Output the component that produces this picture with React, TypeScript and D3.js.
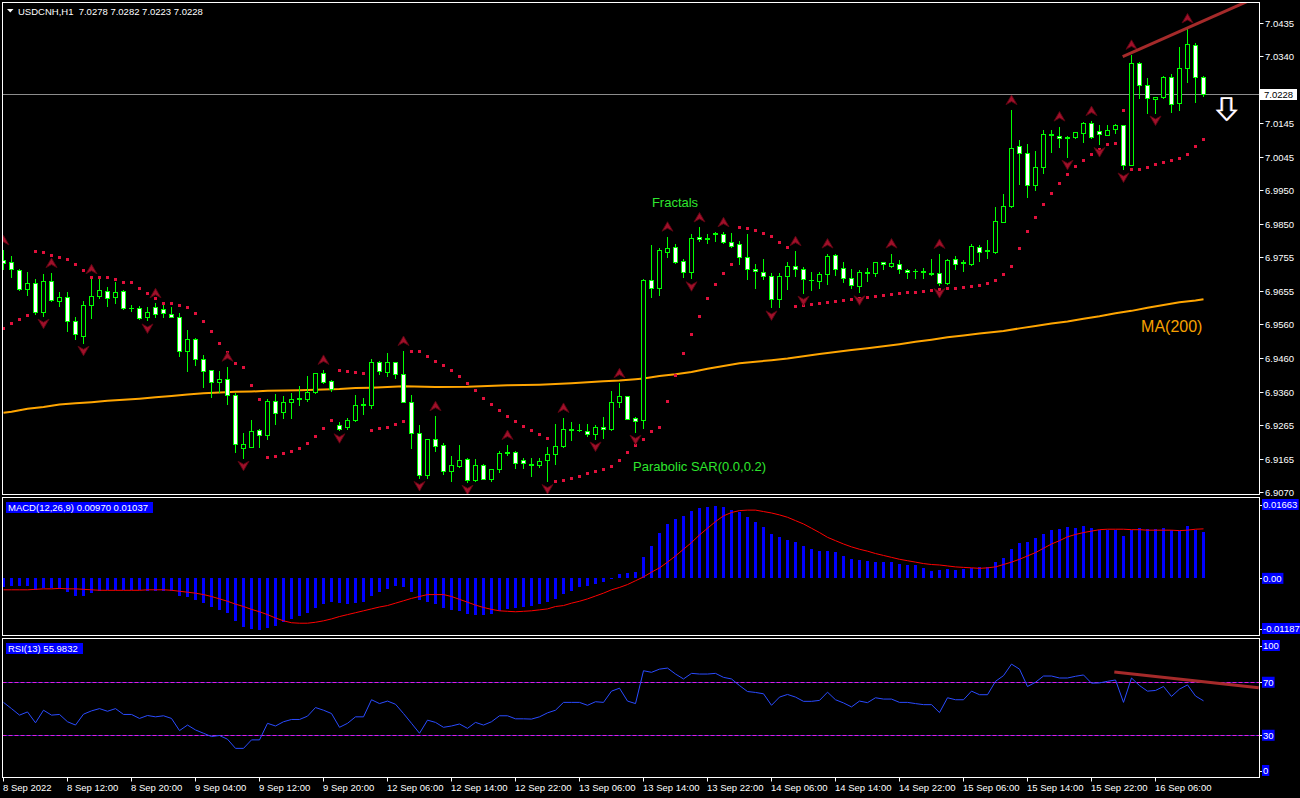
import React from 'react';
import * as d3 from 'd3';

// ---------- data ----------
const xLabels = ['8 Sep 2022','8 Sep 12:00','8 Sep 20:00','9 Sep 04:00','9 Sep 12:00','9 Sep 20:00','12 Sep 06:00','12 Sep 14:00','12 Sep 22:00','13 Sep 06:00','13 Sep 14:00','13 Sep 22:00','14 Sep 06:00','14 Sep 14:00','14 Sep 22:00','15 Sep 06:00','15 Sep 14:00','15 Sep 22:00','16 Sep 06:00'];
const labelStep = 8;
const priceTicks = [7.0435,7.0340,7.0240,7.0145,7.0045,6.9950,6.9850,6.9755,6.9655,6.9560,6.9460,6.9360,6.9265,6.9165,6.9070];
const lastPrice = 7.0228;

const opens = [6.9746,6.9739,6.9715,6.9660,6.9677,6.9593,6.9683,6.9627,6.9637,6.9568,6.9525,6.9613,6.9640,6.9654,6.9636,6.9654,6.9606,6.9605,6.9578,6.9608,6.9602,6.9587,6.9578,6.9479,6.9515,6.9456,6.9424,6.9389,6.9398,6.9351,6.9198,6.9199,6.9249,6.9234,6.9333,6.9301,6.9330,6.9340,6.9341,6.9360,6.9415,
6.9392,6.9264,6.9259,6.9280,6.9324,6.9324,6.9447,6.9418,6.9447,6.9412,6.9330,6.9240,6.9120,6.9225,6.9206,6.9131,6.9145,6.9164,6.9104,6.9149,6.9108,6.9135,6.9183,6.9186,6.9161,6.9149,6.9149,6.9162,6.9181,6.9203,6.9254,6.9250,6.9248,6.9237,6.9260,6.9254,6.9330,6.9348,6.9286,6.9278,
6.9687,6.9664,6.9769,6.9782,6.9742,6.9711,6.9811,6.9806,6.9822,6.9821,6.9798,6.9791,6.9753,6.9718,6.9710,6.9700,6.9633,6.9698,6.9729,6.9718,6.9688,6.9685,6.9703,6.9759,6.9721,6.9694,6.9670,6.9708,6.9706,6.9738,6.9728,6.9735,6.9715,6.9714,6.9712,
6.9707,6.9706,6.9677,6.9747,6.9738,6.9735,6.9784,6.9773,6.9769,6.9857,6.9903,7.0077,7.0056,6.9964,7.0015,7.0112,7.0108,7.0104,7.0103,7.0114,7.0145,7.0120,7.0110,7.0126,7.0138,7.0023,7.0318,7.0254,7.0213,7.0221,7.0278,7.0202,7.0304,7.0372,7.0278];
const highs = [6.9773,6.9757,6.9718,6.9711,6.9690,6.9704,6.9707,6.9652,6.9652,6.9578,6.9626,6.9689,6.9691,6.9666,6.9681,6.9657,6.9613,6.9611,6.9609,6.9619,6.9617,6.9608,6.9590,6.9541,6.9518,6.9468,6.9424,6.9421,6.9434,6.9357,6.9240,6.9279,6.9252,6.9340,6.9355,6.9350,6.9357,6.9378,6.9407,6.9417,6.9425,
6.9395,6.9274,6.9285,6.9351,6.9342,6.9458,6.9450,6.9473,6.9449,6.9480,6.9353,6.9264,6.9225,6.9290,6.9211,6.9174,6.9206,6.9167,6.9164,6.9151,6.9137,6.9188,6.9206,6.9188,6.9167,6.9167,6.9167,6.9199,6.9266,6.9285,6.9272,6.9266,6.9266,6.9264,6.9287,6.9363,6.9386,6.9350,6.9288,6.9690,
6.9789,6.9779,6.9813,6.9791,6.9747,6.9820,6.9840,6.9821,6.9826,6.9826,6.9823,6.9801,6.9821,6.9735,6.9747,6.9706,6.9706,6.9738,6.9771,6.9724,6.9709,6.9711,6.9764,6.9764,6.9740,6.9719,6.9716,6.9721,6.9740,6.9740,6.9764,6.9745,6.9718,6.9718,6.9721,
6.9747,6.9763,6.9749,6.9757,6.9745,6.9792,6.9789,6.9803,6.9899,6.9937,7.0182,7.0095,7.0083,7.0063,7.0124,7.0124,7.0134,7.0107,7.0119,7.0148,7.0150,7.0138,7.0138,7.0141,7.0140,7.0343,7.0322,7.0275,7.0221,7.0281,7.0287,7.0367,7.0420,7.0377,7.0282];
const lows = [6.9718,6.9697,6.9658,6.9643,6.9587,6.9583,6.9626,6.9611,6.9539,6.9514,6.9504,6.9575,6.9634,6.9612,6.9621,6.9603,6.9597,6.9574,6.9569,6.9580,6.9580,6.9578,6.9464,6.9423,6.9439,6.9376,6.9347,6.9360,6.9327,6.9187,6.9169,6.9199,6.9201,6.9223,6.9268,6.9286,6.9286,6.9323,6.9335,6.9357,6.9388,
6.9363,6.9249,6.9254,6.9277,6.9295,6.9314,6.9412,6.9408,6.9402,6.9330,6.9198,6.9110,6.9110,6.9188,6.9123,6.9101,6.9142,6.9099,6.9101,6.9107,6.9101,6.9128,6.9176,6.9138,6.9139,6.9116,6.9142,6.9101,6.9151,6.9201,6.9220,6.9247,6.9233,6.9225,6.9227,6.9249,6.9318,6.9281,6.9245,6.9256,
6.9638,6.9643,6.9755,6.9737,6.9696,6.9692,6.9801,6.9794,6.9801,6.9795,6.9782,6.9735,6.9689,6.9665,6.9690,6.9607,6.9609,6.9661,6.9699,6.9650,6.9659,6.9664,6.9675,6.9701,6.9682,6.9665,6.9651,6.9685,6.9699,6.9719,6.9725,6.9708,6.9694,6.9694,6.9692,
6.9701,6.9672,6.9675,6.9718,6.9714,6.9732,6.9743,6.9750,6.9765,6.9857,6.9901,6.9967,6.9930,6.9949,6.9998,7.0061,7.0075,7.0046,7.0100,7.0090,7.0100,7.0083,7.0109,7.0116,7.0009,7.0023,7.0218,7.0175,7.0175,7.0216,7.0177,7.0182,7.0265,7.0207,7.0223];
const closes = [6.9736,6.9718,6.9660,6.9677,6.9593,6.9683,6.9628,6.9637,6.9568,6.9529,6.9613,6.9640,6.9657,6.9634,6.9651,6.9605,6.9606,6.9577,6.9594,6.9587,6.9590,6.9578,6.9479,6.9515,6.9456,6.9421,6.9389,6.9398,6.9352,6.9208,6.9208,6.9247,6.9234,6.9333,6.9298,6.9330,6.9339,6.9342,6.9360,6.9415,6.9391,
6.9369,6.9254,6.9280,6.9324,6.9326,6.9447,6.9421,6.9447,6.9412,6.9330,6.9240,6.9120,6.9225,6.9204,6.9131,6.9149,6.9161,6.9104,6.9149,6.9108,6.9135,6.9184,6.9185,6.9155,6.9155,6.9150,6.9159,6.9181,6.9203,6.9254,6.9249,6.9250,6.9239,6.9260,6.9254,6.9330,6.9348,6.9283,6.9276,6.9687,
6.9664,6.9774,6.9779,6.9740,6.9711,6.9810,6.9805,6.9808,6.9824,6.9798,6.9787,6.9753,6.9718,6.9712,6.9698,6.9633,6.9698,6.9729,6.9718,6.9689,6.9687,6.9703,6.9757,6.9718,6.9694,6.9672,6.9709,6.9710,6.9738,6.9733,6.9736,6.9718,6.9709,6.9713,6.9711,
6.9705,6.9677,6.9745,6.9735,6.9736,6.9786,6.9769,6.9771,6.9859,6.9904,7.0073,7.0056,6.9963,7.0015,7.0111,7.0110,7.0100,7.0102,7.0117,7.0143,7.0103,7.0111,7.0124,7.0138,7.0021,7.0318,7.0254,7.0216,7.0221,7.0278,7.0200,7.0304,7.0375,7.0279,7.0228];

const sar = [6.9546,6.9561,6.9573,6.9584,6.9772,6.9768,6.9759,6.9754,6.9747,6.9733,6.9715,6.9695,6.9695,6.9695,6.9689,6.9680,6.9680,6.9663,6.9648,6.9634,6.9619,6.9619,6.9613,6.9608,6.9590,6.9567,6.9538,6.9503,6.9476,6.9444,6.9433,6.9380,6.9339,6.9170,6.9173,6.9182,6.9188,6.9196,6.9211,6.9231,6.9255,
6.9279,6.9424,6.9421,6.9418,6.9416,6.9249,6.9255,6.9258,6.9267,6.9276,6.9480,6.9480,6.9465,6.9451,6.9439,6.9424,6.9407,6.9386,6.9365,6.9343,6.9325,6.9308,6.9290,6.9276,6.9261,6.9249,6.9238,6.9226,6.9101,6.9103,6.9109,6.9115,6.9124,6.9130,6.9136,6.9144,6.9162,6.9185,6.9206,6.9223,
6.9247,6.9258,6.9335,6.9410,6.9474,6.9529,6.9583,6.9635,6.9675,6.9708,6.9733,6.9842,6.9838,6.9832,6.9824,6.9815,6.9797,6.9784,6.9611,6.9614,6.9617,6.9620,6.9622,6.9625,6.9628,6.9631,6.9634,6.9637,6.9640,6.9643,6.9646,6.9649,6.9652,6.9652,6.9655,
6.9658,6.9661,6.9663,6.9663,6.9666,6.9669,6.9672,6.9678,6.9687,6.9704,6.9729,6.9780,6.9830,6.9870,6.9908,6.9940,6.9970,6.9996,7.0019,7.0037,7.0054,7.0069,7.0083,7.0086,7.0182,7.0010,7.0010,7.0016,7.0025,7.0031,7.0037,7.0042,7.0054,7.0077,7.0098];

const fractalUp = [0,6,11,19,28,40,50,54,63,70,77,83,87,90,99,103,111,117,126,132,136,141,148];
const fractalDown = [5,10,18,30,42,52,58,68,74,79,86,96,100,107,117,133,137,140,144];

const maBars = [0,1,3,5,7,9,11,13,15,17,19,21,23,25,27,29,31,33,35,37,39,42,44,46,48,50,54,58,63,67,69,71,73,75,77,79,80,82,84,86,88,90,92,94,96,98,100,102,104,106,108,110,112,114,116,118,120,122,125,127,129,131,133,135,137,139,141,143,145,147,149,150];
const maValues = [6.9300,6.9303,6.9312,6.9317,6.9324,6.9328,6.9331,6.9335,6.9338,6.9341,6.9345,6.9349,6.9353,6.9357,6.9359,6.9361,6.9362,6.9364,6.9365,6.9366,6.9367,6.9369,6.9372,6.9373,6.9375,6.9377,6.9375,6.9376,6.9380,6.9382,6.9384,6.9386,6.9389,6.9392,6.9394,6.9398,6.9400,6.9407,6.9412,6.9419,6.9428,6.9436,6.9444,6.9449,6.9453,6.9458,6.9465,6.9471,6.9477,6.9483,6.9488,6.9494,6.9500,6.9507,6.9513,6.9520,6.9525,6.9531,6.9538,6.9546,6.9553,6.9560,6.9566,6.9574,6.9581,6.9590,6.9597,6.9606,6.9614,6.9622,6.9627,6.9631];

const trendBars = [139.9, 155.5];
const trendPrices = [7.0338, 7.0499];

const macdHist = [-0.0019,-0.0015,-0.0017,-0.0017,-0.0024,-0.0020,-0.0020,-0.0023,-0.0029,-0.0036,-0.0036,-0.0031,-0.0026,-0.0024,-0.0024,-0.0024,-0.0024,-0.0024,-0.0026,-0.0026,-0.0026,-0.0027,-0.0036,-0.0040,-0.0045,-0.0052,-0.0061,-0.0066,-0.0073,-0.0089,-0.0101,-0.0106,-0.0108,-0.0103,-0.0100,-0.0092,-0.0085,-0.0078,-0.0073,-0.0062,-0.0054,
-0.0050,-0.0052,-0.0054,-0.0052,-0.0050,-0.0038,-0.0029,-0.0022,-0.0017,-0.0019,-0.0029,-0.0045,-0.0050,-0.0054,-0.0062,-0.0066,-0.0069,-0.0075,-0.0076,-0.0077,-0.0075,-0.0068,-0.0065,-0.0062,-0.0059,-0.0058,-0.0054,-0.0050,-0.0044,-0.0033,-0.0027,-0.0019,-0.0017,-0.0012,-0.0008,0.0001,0.0009,0.0012,0.0013,0.0045,
0.0068,0.0096,0.0114,0.0125,0.0131,0.0142,0.0147,0.0150,0.0151,0.0150,0.0144,0.0139,0.0129,0.0118,0.0108,0.0094,0.0086,0.0081,0.0077,0.0068,0.0062,0.0058,0.0058,0.0055,0.0047,0.0041,0.0038,0.0036,0.0035,0.0035,0.0034,0.0030,0.0029,0.0027,0.0021,
0.0016,0.0018,0.0020,0.0018,0.0019,0.0022,0.0024,0.0024,0.0034,0.0042,0.0062,0.0075,0.0076,0.0084,0.0094,0.0102,0.0103,0.0107,0.0105,0.0110,0.0105,0.0102,0.0102,0.0101,0.0088,0.0101,0.0105,0.0103,0.0103,0.0105,0.0101,0.0100,0.0109,0.0102,0.0097];
const macdSignal = [-0.0024,-0.0024,-0.0024,-0.0024,-0.0023,-0.0022,-0.0022,-0.0021,-0.0022,-0.0022,-0.0023,-0.0024,-0.0025,-0.0025,-0.0025,-0.0025,-0.0025,-0.0025,-0.0024,-0.0024,-0.0024,-0.0025,-0.0027,-0.0029,-0.0031,-0.0034,-0.0038,-0.0043,-0.0048,-0.0054,-0.0059,-0.0065,-0.0070,-0.0076,-0.0083,-0.0089,-0.0093,-0.0094,-0.0094,-0.0092,-0.0089,
-0.0085,-0.0080,-0.0076,-0.0072,-0.0068,-0.0064,-0.0060,-0.0057,-0.0052,-0.0047,-0.0042,-0.0038,-0.0034,-0.0034,-0.0034,-0.0038,-0.0044,-0.0050,-0.0056,-0.0061,-0.0065,-0.0068,-0.0069,-0.0070,-0.0069,-0.0068,-0.0066,-0.0064,-0.0059,-0.0057,-0.0052,-0.0048,-0.0043,-0.0037,-0.0031,-0.0024,-0.0019,-0.0013,-0.0005,0.0003,
0.0013,0.0022,0.0034,0.0047,0.0061,0.0075,0.0091,0.0105,0.0119,0.0131,0.0138,0.0142,0.0143,0.0143,0.0140,0.0137,0.0133,0.0128,0.0121,0.0114,0.0105,0.0096,0.0086,0.0079,0.0072,0.0066,0.0061,0.0057,0.0052,0.0048,0.0044,0.0040,0.0037,0.0034,0.0031,
0.0029,0.0028,0.0026,0.0024,0.0023,0.0022,0.0021,0.0022,0.0024,0.0029,0.0034,0.0040,0.0047,0.0054,0.0063,0.0072,0.0079,0.0087,0.0092,0.0096,0.0099,0.0102,0.0103,0.0103,0.0103,0.0102,0.0102,0.0101,0.0101,0.0101,0.0101,0.0100,0.0101,0.0103,0.01037];
const macdTicks = [0.01663, 0, -0.01187];
const macdTickLabels = ['0.01663', '0.00', '-0.01187'];

const rsi = [54.8,50.1,45.2,47.6,39.4,48.9,45.2,45.7,40.2,37.7,45.9,48.4,50.1,48.1,50.1,45.7,45.7,42.7,44.9,43.9,44.7,42.7,33.5,37.7,34.0,31.5,29.0,29.8,27.0,20.1,20.1,26.5,26.5,39.0,37.0,40.2,41.9,41.9,44.4,50.9,48.9,
46.4,36.0,39.0,43.9,43.9,56.8,53.9,55.8,53.4,46.4,39.0,31.5,41.4,39.7,36.0,37.0,38.5,35.2,39.7,37.7,40.2,44.7,44.7,42.4,42.4,42.2,43.9,46.9,48.9,54.8,54.8,54.8,52.6,55.3,54.8,63.3,65.5,55.8,53.9,78.7,
77.5,79.9,80.7,76.2,72.5,76.7,76.2,76.2,76.7,73.7,72.5,67.5,63.0,62.3,61.3,52.6,58.8,60.8,58.8,55.6,55.6,56.3,62.5,56.8,54.4,51.4,55.8,54.6,58.3,57.3,57.3,54.8,54.8,53.9,53.1,
53.1,47.1,58.3,56.8,56.8,63.3,60.6,60.6,70.7,75.0,83.7,79.9,66.8,70.0,74.7,74.7,73.2,73.2,74.5,75.5,69.3,69.5,70.7,71.7,54.8,73.2,67.5,63.3,63.8,66.8,59.3,64.8,68.0,59.6,55.98];
const rsiLevels = [70, 30];
const rsiTicks = [100, 70, 30, 0];
const rsiTrendBars = [138.85, 156.9];
const rsiTrendValues = [77.7, 65.9];

// ---------- component ----------
const FONT = '"Liberation Sans", Arial, sans-serif';
const GREEN = '#00ff00';

export default function App() {
  const W = 1300, H = 798;
  const left = 2.5, right = 1259.5;
  const main = { top: 2.5, bottom: 494.5 };
  const macdP = { top: 497.5, bottom: 635.5 };
  const rsiP = { top: 638.5, bottom: 777.5 };

  const x = d3.scaleLinear().domain([0, 150]).range([3.5, 1203.5]);
  const y = d3.scaleLinear().domain([6.9070, 7.0435]).range([491.7, 23.3]);
  const ym = d3.scaleLinear().domain([-0.01187, 0.01663]).range([635, 499]);
  const yr = d3.scaleLinear().domain([0, 100]).range([775, 642.5]);

  const rnd = (v: number) => Math.round(v);
  const clampLab = (v: number, p: { top: number; bottom: number }) => Math.max(p.top + 7, Math.min(p.bottom - 7, v));

  const maLine = d3.line<number>().x((_, i) => x(maBars[i])).y((v) => y(v))(maValues) || '';
  const sigLine = d3.line<number>().x((_, i) => x(i)).y((v) => ym(v))(macdSignal) || '';
  const rsiLine = d3.line<number>().x((_, i) => x(i)).y((v) => yr(v))(rsi) || '';

  const zeroY = rnd(ym(0));
  const lastY = rnd(y(lastPrice));

  const upPath = 'M0,-5 L5.5,4.5 L0,1.5 L-5.5,4.5 Z';
  const downPath = 'M0,5 L5.5,-4.5 L0,-1.5 L-5.5,-4.5 Z';

  // arrow annotation anchored in data space
  const arrowBar = 152.9;
  const arrowTopY = y(7.0217);
  const arrowMidY = y(7.0181);
  const arrowTipY = y(7.0153);
  const ax = x(arrowBar);
  const arrowPath = `M${ax - 5},${arrowTopY} L${ax + 4.5},${arrowTopY} L${ax + 4.5},${arrowMidY} L${ax + 9},${arrowMidY} L${ax},${arrowTipY} L${ax - 9},${arrowMidY} L${ax - 5},${arrowMidY} Z`;

  return (
    <svg width={W} height={H} style={{ position: 'fixed', left: 0, top: 0, background: '#000' }} fontFamily={FONT}>
      <defs>
        <clipPath id="clipMain"><rect x={3} y={3} width={1256} height={491} /></clipPath>
        <clipPath id="clipMacd"><rect x={3} y={498} width={1256} height={137} /></clipPath>
        <clipPath id="clipRsi"><rect x={3} y={639} width={1256} height={138} /></clipPath>
      </defs>
      <rect x={0} y={0} width={W} height={H} fill="#000" />

      {/* ================= MAIN PANEL ================= */}
      <g clipPath="url(#clipMain)">
        <path d={maLine} fill="none" stroke="#ffa500" strokeWidth={2} />
        <line x1={left} x2={right} y1={lastY + 0.5} y2={lastY + 0.5} stroke="#8c8c8c" strokeWidth={1} />
        {opens.map((o, i) => {
          const c = closes[i];
          const cx = x(i);
          const top = rnd(y(Math.max(o, c)));
          const bot = rnd(y(Math.min(o, c)));
          const bull = c >= o;
          return (
            <g key={'c' + i}>
              <line x1={cx} x2={cx} y1={rnd(y(highs[i]))} y2={rnd(y(lows[i])) + 1} stroke={GREEN} strokeWidth={1} />
              {bot - top < 1 ? (
                <line x1={cx - 2.5} x2={cx + 2.5} y1={top + 0.5} y2={top + 0.5} stroke={GREEN} strokeWidth={1} />
              ) : (
                <rect x={cx - 2} y={top + 0.5} width={4} height={bot - top} fill={bull ? '#000' : '#fff'} stroke={GREEN} strokeWidth={1} />
              )}
            </g>
          );
        })}
        {sar.map((v, i) => (
          <rect key={'s' + i} x={x(i) - 1.5} y={rnd(y(v)) - 1} width={3} height={3} fill="#e0103c" />
        ))}
        {fractalUp.map((b) => (
          <path key={'fu' + b} d={upPath} transform={`translate(${x(b)},${y(highs[b]) - 10})`} fill="#a0102a" stroke="#5c0512" strokeWidth={0.9} />
        ))}
        {fractalDown.map((b) => (
          <path key={'fd' + b} d={downPath} transform={`translate(${x(b)},${y(lows[b]) + 8})`} fill="#a0102a" stroke="#5c0512" strokeWidth={0.9} />
        ))}
        <line x1={x(trendBars[0])} y1={y(trendPrices[0])} x2={x(trendBars[1])} y2={y(trendPrices[1])} stroke="#a52a2a" strokeWidth={3} />
        <text x={x(81.05)} y={y(6.9900)} fill="#2ee62e" fontSize={13}>Fractals</text>
        <text x={x(78.7)} y={y(6.9130)} fill="#2ee62e" fontSize={13}>Parabolic SAR(0.0,0.2)</text>
        <text x={x(142.2)} y={y(6.9535)} fill="#f7a000" fontSize={16}>MA(200)</text>
        <path d={arrowPath} fill="none" stroke="#3a7bff" strokeWidth={1.2} transform="translate(-1,0)" />
        <path d={arrowPath} fill="none" stroke="#ff9a30" strokeWidth={1.2} transform="translate(1,0)" />
        <path d={arrowPath} fill="none" stroke="#ffffff" strokeWidth={1.6} />
      </g>

      {/* header */}
      <path d="M7,9 L13.5,9 L10.25,12.5 Z" fill="#fff" />
      <text x={18} y={15} fill="#fff" fontSize={9.5} style={{ whiteSpace: 'pre' }}>{'USDCNH,H1  7.0278 7.0282 7.0223 7.0228'}</text>

      <rect x={left} y={main.top} width={right - left} height={main.bottom - main.top} fill="none" stroke="#fff" strokeWidth={1} />

      {/* price axis (labels hidden under the current-price box are not drawn, as in the terminal) */}
      {priceTicks.map((t) => {
        const ty = rnd(y(t)) + 0.5;
        const hidden = Math.abs(ty - lastY) < 12;
        return (
          <g key={'pt' + t}>
            <line x1={right} x2={right + 4} y1={ty} y2={ty} stroke="#fff" />
            {!hidden && <text x={1265} y={ty + 3.5} fill="#fff" fontSize={9.5}>{t.toFixed(4)}</text>}
          </g>
        );
      })}
      <g>
        <rect x={1260} y={lastY - 5} width={37} height={11} fill="#fff" />
        <text x={1264} y={lastY + 4} fill="#000" fontSize={9.5}>{lastPrice.toFixed(4)}</text>
      </g>

      {/* ================= MACD PANEL ================= */}
      <g clipPath="url(#clipMacd)">
        {macdHist.map((v, i) => {
          const yv = rnd(ym(v));
          const y0 = Math.min(yv, zeroY);
          const h = Math.max(1, Math.abs(yv - zeroY));
          return <rect key={'m' + i} x={x(i) - 1.5} y={y0} width={3} height={h} fill="#0000ff" />;
        })}
        <path d={sigLine} fill="none" stroke="#ff0000" strokeWidth={1} />
      </g>
      <rect x={left} y={macdP.top} width={right - left} height={macdP.bottom - macdP.top} fill="none" stroke="#fff" strokeWidth={1} />
      <rect x={6} y={502} width={147} height={11} fill="#0000ff" />
      <text x={8} y={511} fill="#fff" fontSize={9.5}>MACD(12,26,9) 0.00970 0.01037</text>
      {macdTicks.map((t, i) => {
        const cy = clampLab(ym(t), macdP);
        return (
          <g key={'mt' + i}>
            <line x1={right} x2={right + 4} y1={rnd(cy) + 0.5} y2={rnd(cy) + 0.5} stroke="#fff" />
            <rect x={1262} y={cy - 5.5} width={macdTickLabels[i].length * 5.1 + 1} height={11} fill="#0000ff" />
            <text x={1263} y={cy + 3.5} fill="#fff" fontSize={9.5}>{macdTickLabels[i]}</text>
          </g>
        );
      })}

      {/* ================= RSI PANEL ================= */}
      <g clipPath="url(#clipRsi)">
        {rsiLevels.map((l) => (
          <g key={'rl' + l}>
            <line x1={left} x2={right} y1={rnd(yr(l)) + 0.5} y2={rnd(yr(l)) + 0.5} stroke="#1c1c9c" strokeWidth={1} />
            <line x1={left} x2={right} y1={rnd(yr(l)) + 0.5} y2={rnd(yr(l)) + 0.5} stroke="#e01ee0" strokeWidth={1} strokeDasharray="4,2" />
          </g>
        ))}
        <path d={rsiLine} fill="none" stroke="#2a4bff" strokeWidth={1} />
        <line x1={x(rsiTrendBars[0])} y1={yr(rsiTrendValues[0])} x2={x(rsiTrendBars[1])} y2={yr(rsiTrendValues[1])} stroke="#a52a2a" strokeWidth={3} />
      </g>
      <rect x={left} y={rsiP.top} width={right - left} height={rsiP.bottom - rsiP.top} fill="none" stroke="#fff" strokeWidth={1} />
      <rect x={6} y={643} width={77} height={11} fill="#0000ff" />
      <text x={8} y={652} fill="#fff" fontSize={9.5}>RSI(13) 55.9832</text>
      {rsiTicks.map((t) => {
        const cy = clampLab(yr(t), rsiP);
        const lab = String(t);
        return (
          <g key={'rt' + t}>
            <line x1={right} x2={right + 4} y1={rnd(cy) + 0.5} y2={rnd(cy) + 0.5} stroke="#fff" />
            <rect x={1262} y={cy - 5.5} width={lab.length * 5.3 + 2} height={11} fill="#0000ff" />
            <text x={1263} y={cy + 3.5} fill="#fff" fontSize={9.5}>{lab}</text>
          </g>
        );
      })}

      {/* ================= TIME AXIS ================= */}
      {xLabels.map((lab, i) => {
        const tx = x(i * labelStep);
        return (
          <g key={'xl' + i}>
            <line x1={tx} x2={tx} y1={rsiP.bottom} y2={rsiP.bottom + 4} stroke="#fff" />
            <text x={tx - 0.5} y={791} fill="#fff" fontSize={9.5}>{lab}</text>
          </g>
        );
      })}
    </svg>
  );
}
